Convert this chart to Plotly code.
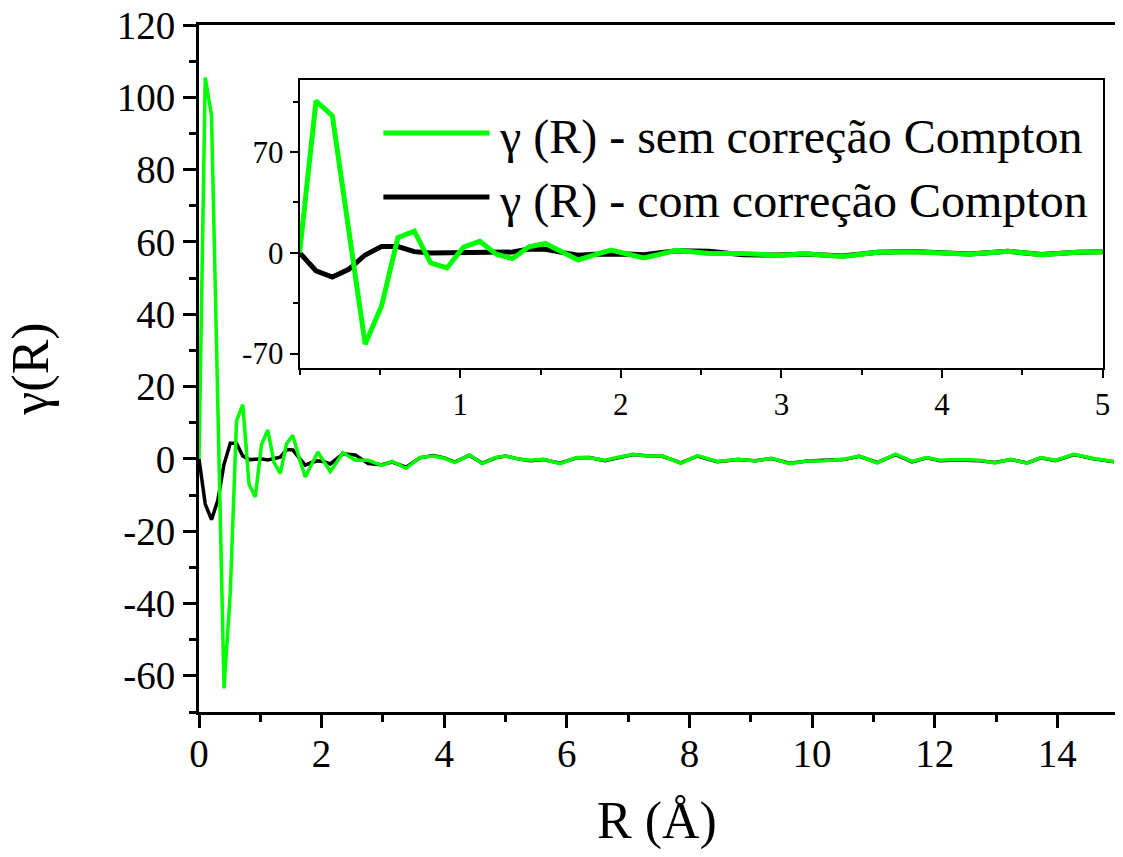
import plotly.graph_objects as go

# ---- data ----
R = [0, 0.102, 0.204, 0.306, 0.408, 0.51, 0.612, 0.714, 0.816, 0.918,
     1.02, 1.122, 1.224, 1.326, 1.428, 1.53, 1.632, 1.734, 1.836, 1.938,
     2.04, 2.142, 2.244, 2.346, 2.55, 2.76, 2.98, 3.15, 3.38, 3.6,
     3.82, 4.0, 4.17, 4.41, 4.62, 4.84, 5.0, 5.2, 5.4, 5.62,
     5.89, 6.16, 6.37, 6.62, 6.8, 7.08, 7.3, 7.56, 7.86, 8.13,
     8.45, 8.8, 9.07, 9.34, 9.63, 9.93, 10.2, 10.52, 10.77, 11.06,
     11.36, 11.63, 11.87, 12.09, 12.36, 12.73, 12.98, 13.24, 13.51, 13.73,
     13.97, 14.27, 14.57, 14.92]

gamma_sem = [0, 105.5, 95, 16, -63.5, -37, 10.5, 15, -7, -10.5,
             4, 8, -1, -4, 4.2, 6.5, 0.3, -5, -1.5, 1.9,
             -0.8, -3.5, -1, 1.75, -0.4, -0.4, -1.8, -0.7, -2.6, 0.4,
             0.8, 0.2, -1, 1.1, -1.3, 0.4, 0.8, 0, -0.4, -0.1,
             -1.3, 0.4, 0.3, -0.4, 0.3, 1.3, 0.8, 0.8, -1.2, 0.9,
             -0.7, -0.1, -0.55, 0.2, -1.3, -0.55, -0.5, -0.1, 0.8, -1.1,
             1.3, -0.7, 0.4, -0.4, -0.2, -0.4, -1.1, -0.1, -1.2, 0.4,
             -0.4, 1.3, 0.2, -0.7]

gamma_com = [0, -12.5, -16.8, -11.5, -1.5, 4.3, 4.3, 0.8, -0.2, 0,
             0, -0.3, 0, 0.5, 2.6, 2.5, 0.3, -1.7, -1, -0.5,
             -0.8, -1.4, 0, 1.4, 1.1, -1.3, -1.6, -0.9, -2.3, 0.3,
             0.9, 0.3, -0.9, 1.0, -1.2, 0.3, 0.8, 0, -0.5, -0.2,
             -1.2, 0.3, 0.4, -0.5, 0.2, 1.2, 0.9, 0.7, -1.1, 0.8,
             -0.8, -0.2, -0.5, 0.1, -1.2, -0.6, -0.4, -0.2, 0.7, -1.0,
             1.2, -0.8, 0.3, -0.5, -0.3, -0.5, -1.0, -0.2, -1.1, 0.3,
             -0.5, 1.2, 0.1, -0.8]

labels = ["γ (R) - sem correção Compton", "γ (R) - com correção Compton"]
colors = ["#00FF00", "#000000"]

main_xticks = [0, 2, 4, 6, 8, 10, 12, 14]
main_yticks = [-60, -40, -20, 0, 20, 40, 60, 80, 100, 120]
main_yticktext = ["-60", "-40", "-20", "0", "20", "40", "60", "80", "100", "120"]
inset_xticks = [1, 2, 3, 4, 5]
inset_yticks = [-70, 0, 70]
inset_yticktext = ["-70", "0", "70"]

FONT = "Liberation Serif, Times New Roman, serif"

fig = go.Figure()
# main plot (black first, green on top)
fig.add_trace(go.Scatter(x=R, y=gamma_com, mode="lines", line=dict(color=colors[1], width=3.5),
                         name=labels[1], showlegend=False, xaxis="x", yaxis="y"))
fig.add_trace(go.Scatter(x=R, y=gamma_sem, mode="lines", line=dict(color=colors[0], width=3.5),
                         name=labels[0], showlegend=False, xaxis="x", yaxis="y"))
# inset
fig.add_trace(go.Scatter(x=R, y=gamma_com, mode="lines", line=dict(color=colors[1], width=5),
                         name=labels[1], showlegend=False, xaxis="x2", yaxis="y2"))
fig.add_trace(go.Scatter(x=R, y=gamma_sem, mode="lines", line=dict(color=colors[0], width=5),
                         name=labels[0], showlegend=False, xaxis="x2", yaxis="y2"))

W, H = 1123, 857
ML, MR, MT, MB = 199, 0, 25, 145
pw = W - ML - MR
ph = H - MT - MB

def px_x(p):
    return (p - ML) / pw

def px_y(p):
    return (H - MB - p) / ph

axis_common = dict(showgrid=False, zeroline=False, showline=True, linecolor="black",
                   ticks="outside", tickcolor="black", tickfont=dict(family=FONT, size=39, color="black"))

fig.update_layout(
    width=W, height=H,
    margin=dict(l=ML, r=MR, t=MT, b=MB),
    paper_bgcolor="white", plot_bgcolor="white",
    font=dict(family=FONT, color="black"),
    xaxis=dict(**axis_common, domain=[0, 1], range=[0, 14.94], tickvals=main_xticks,
               linewidth=3, tickwidth=3, ticklen=13, mirror=True, ticklabelstandoff=-8,
               minor=dict(dtick=1, ticklen=7, tickwidth=3, ticks="outside", tickcolor="black"),
               title=dict(text="R (Å)", font=dict(family=FONT, size=52), standoff=28)),
    yaxis=dict(**axis_common, domain=[0, 1], range=[-70, 120], tickvals=main_yticks,
               ticktext=main_yticktext,
               linewidth=3, tickwidth=3, ticklen=13, mirror=False,
               minor=dict(dtick=10, ticklen=7, tickwidth=3, ticks="outside", tickcolor="black"),
               title=dict(text="γ(R)", font=dict(family=FONT, size=52), standoff=52)),
    xaxis2=dict(showgrid=False, zeroline=False, showline=True, linecolor="black", linewidth=2,
                mirror=True, ticks="outside", ticklen=8, tickwidth=2, tickcolor="black",
                tickfont=dict(family=FONT, size=31, color="black"),
                domain=[px_x(300.5), px_x(1110.5)], anchor="y2", range=[0, 5], tickvals=inset_xticks,
                minor=dict(dtick=0.5, ticklen=5, tickwidth=2, ticks="outside", tickcolor="black")),
    yaxis2=dict(showgrid=False, zeroline=False, showline=True, linecolor="black", linewidth=2,
                mirror=True, ticks="outside", ticklen=8, tickwidth=2, tickcolor="black",
                tickfont=dict(family=FONT, size=31, color="black"),
                domain=[px_y(368), px_y(80)], anchor="x2", range=[-80, 120], tickvals=inset_yticks,
                ticktext=inset_yticktext,
                minor=dict(tick0=0, dtick=35, ticklen=5, tickwidth=2, ticks="outside", tickcolor="black")),
    showlegend=False,
)

# legend drawn inside the inset (sample line + text)
legend_rows = [(133, 0), (197, 1)]
for ypx, i in legend_rows:
    fig.add_shape(type="line", xref="paper", yref="paper",
                  x0=px_x(385), x1=px_x(492), y0=px_y(ypx), y1=px_y(ypx),
                  line=dict(color=colors[i], width=5))
    fig.add_annotation(xref="paper", yref="paper", x=px_x(500), y=px_y(ypx + 4),
                       xanchor="left", yanchor="middle", showarrow=False,
                       text=labels[i], font=dict(family=FONT, size=48, color="black"))

fig.write_html("out.html")
